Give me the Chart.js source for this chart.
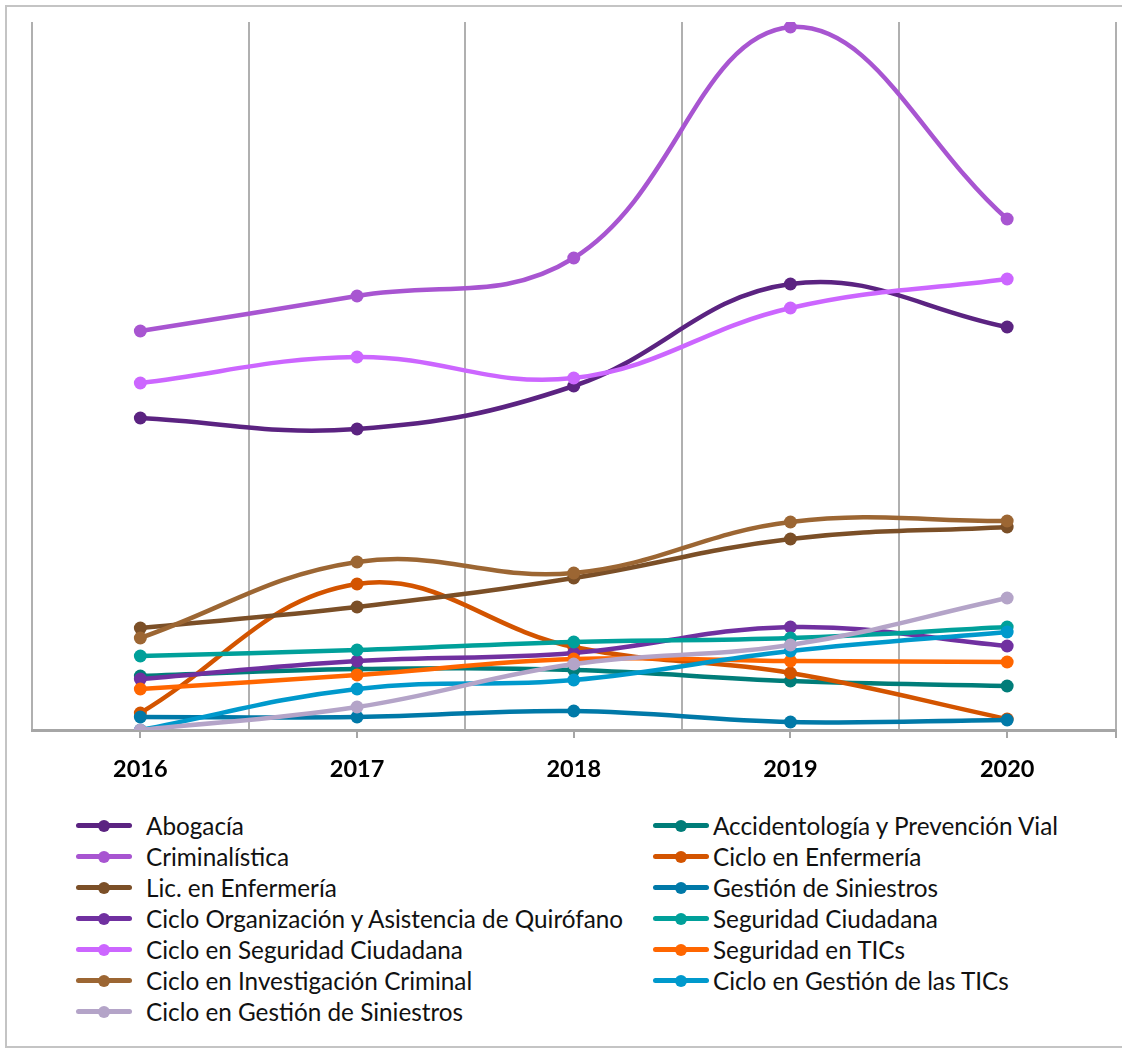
<!DOCTYPE html>
<html>
<head>
<meta charset="utf-8">
<script src="https://cdn.jsdelivr.net/npm/chart.js@4/dist/chart.umd.min.js"></script>
<style>
  html, body { margin: 0; padding: 0; background: #fff; }
  body { width: 1122px; height: 1053px; position: relative; overflow: hidden; font-family: Lato, "Open Sans", sans-serif; }
  #frame { position: absolute; left: 5px; top: 5px; width: 1125px; height: 1043px; border: 2px solid #c4c4c4; box-sizing: border-box; }
  #wrap { position: absolute; left: 0; top: 0; width: 1122px; height: 800px; }
  #legend { position: absolute; left: 0; top: 810px; width: 1122px; }
  .item { position: absolute; height: 31px; display: flex; align-items: center; font-size: 24.3px; color: #111; white-space: nowrap; }
  .icon { position: relative; width: 56px; height: 31px; flex: none; }
  .icon .ln { position: absolute; left: 0; top: 13px; width: 56px; height: 5px; border-radius: 2.5px; }
  .icon .dt { position: absolute; left: 22px; top: 9.5px; width: 12px; height: 12px; border-radius: 50%; }
</style>
</head>
<body>
<div id="frame"></div>
<div id="wrap"><canvas id="c" width="1122" height="800"></canvas></div>
<div id="legend"></div>
<script>
const years = ["2016", "2017", "2018", "2019", "2020"];

const seriesNames = [
  "Abogacía",
  "Accidentología y Prevención Vial",
  "Criminalística",
  "Ciclo en Enfermería",
  "Lic. en Enfermería",
  "Gestión de Siniestros",
  "Ciclo Organización y Asistencia de Quirófano",
  "Seguridad Ciudadana",
  "Ciclo en Seguridad Ciudadana",
  "Seguridad en TICs",
  "Ciclo en Investigación Criminal",
  "Ciclo en Gestión de las TICs",
  "Ciclo en Gestión de Siniestros"
];

const seriesColors = [
  "#5b2381", "#007d79", "#a855d1", "#d35400", "#7b4f27", "#0079a8",
  "#7030a0", "#00a09a", "#cc66ff", "#ff6600", "#9c6633", "#0099cc", "#b4a4c8"
];

const abogacia          = [156, 150.5, 172, 223, 201.5];
const accidentologia    = [27, 30.5, 30, 24.5, 22];
const criminalistica    = [199.5, 217, 236, 351.5, 255.5];
const cicloEnfermeria   = [8.5, 73, 41.5, 28.5, 5.5];
const licEnfermeria     = [51, 61.5, 76, 95.5, 101.5];
const gestionSiniestros = [6.5, 6.5, 9.5, 4, 5];
const cicloQuirofano    = [25.5, 34.5, 38.5, 51.5, 42];
const seguridadCiud     = [37, 40, 44, 46, 51.5];
const cicloSegCiud      = [173.5, 186.5, 176, 211, 225.5];
const seguridadTICs     = [20.5, 27.5, 35.5, 34.5, 34];
const cicloInvCriminal  = [46, 84, 78.5, 104, 104.5];
const cicloGestionTICs  = [0, 20.5, 25, 39.5, 49];
const cicloGestionSin   = [0, 11.5, 33, 42.5, 66];

const seriesValues = [
  abogacia, accidentologia, criminalistica, cicloEnfermeria, licEnfermeria,
  gestionSiniestros, cicloQuirofano, seguridadCiud, cicloSegCiud, seguridadTICs,
  cicloInvCriminal, cicloGestionTICs, cicloGestionSin
];

const datasets = seriesNames.map((name, i) => ({
  label: name,
  data: seriesValues[i],
  borderColor: seriesColors[i],
  backgroundColor: seriesColors[i],
  pointBackgroundColor: seriesColors[i],
  pointBorderColor: seriesColors[i],
  borderWidth: 4.5,
  pointRadius: 6.5,
  pointBorderWidth: 0,
  tension: 0.4,
  order: seriesNames.length - i
}));

const tickMarks = {
  id: 'tickMarks',
  afterDraw(chart) {
    const x = chart.scales.x;
    const ctx = chart.ctx;
    ctx.save();
    ctx.strokeStyle = '#a6a6a6';
    ctx.lineWidth = 2;
    const y0 = chart.chartArea.bottom;
    const xs = years.map((_, i) => x.getPixelForValue(i));
    xs.push(x.right);
    xs.forEach(px => {
      ctx.beginPath();
      ctx.moveTo(Math.round(px), y0);
      ctx.lineTo(Math.round(px), y0 + 8);
      ctx.stroke();
    });
    ctx.restore();
  }
};

const chart = new Chart(document.getElementById('c'), {
  type: 'line',
  data: { labels: years, datasets },
  options: {
    responsive: false,
    animation: false,
    layout: { padding: { left: 32, right: 6, top: 22, bottom: 0 } },
    plugins: { legend: { display: false }, tooltip: { enabled: false } },
    scales: {
      x: {
        offset: true,
        grid: { offset: true, color: '#b0b0b0', lineWidth: 2, drawTicks: false },
        border: { display: true, color: '#a6a6a6', width: 3 },
        ticks: { color: '#000', padding: 25, font: { family: 'Lato', size: 23.5, weight: 'bold' } },
        afterFit(s) { s.height = 70; }
      },
      y: {
        display: false,
        min: 0,
        max: 354
      }
    }
  },
  plugins: [tickMarks]
});

// HTML legend (two columns, row-wise order as in the reference)
const legend = document.getElementById('legend');
seriesNames.forEach((name, i) => {
  const col = i % 2, row = Math.floor(i / 2);
  const it = document.createElement('div');
  it.className = 'item';
  it.style.left = (col === 0 ? 76 : 653) + 'px';
  it.style.top = (row * 31) + 'px';
  const icon = document.createElement('div');
  icon.className = 'icon';
  const ln = document.createElement('div'); ln.className = 'ln'; ln.style.background = seriesColors[i];
  const dt = document.createElement('div'); dt.className = 'dt'; dt.style.background = seriesColors[i];
  icon.appendChild(ln); icon.appendChild(dt);
  const tx = document.createElement('span');
  tx.textContent = name;
  tx.style.marginLeft = (col === 0 ? 14 : 4) + 'px';
  it.appendChild(icon); it.appendChild(tx);
  legend.appendChild(it);
});
</script>
</body>
</html>
